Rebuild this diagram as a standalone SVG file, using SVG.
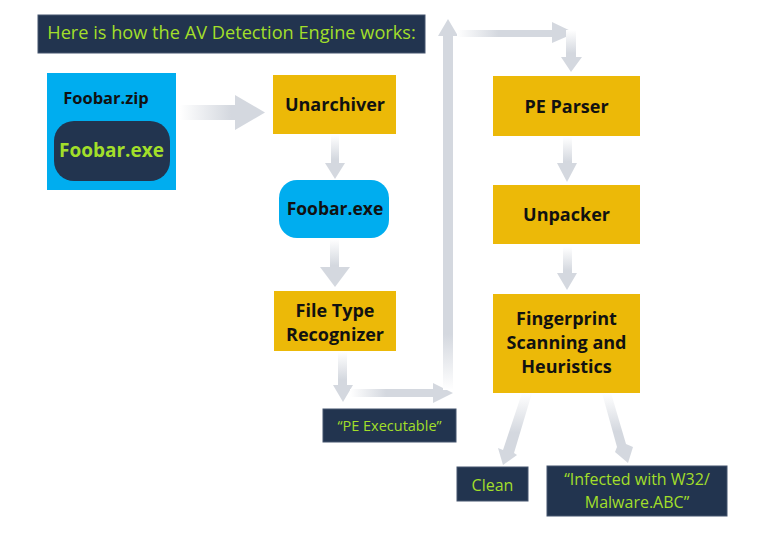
<svg xmlns="http://www.w3.org/2000/svg" width="783" height="534" viewBox="0 0 783 534">
<style>
.dark{fill:#22344f;stroke:#44546e;stroke-width:1}
.yel{fill:#ecb908}
.blue{fill:#00adef}
.lbl{font-family:"Open Sans","Noto Sans",sans-serif;font-weight:bold;fill:#111;text-anchor:middle}
.grn{font-family:"Open Sans","Noto Sans",sans-serif;fill:#a2df2a;text-anchor:middle}
</style>
<defs>
<linearGradient id="gR" x1="0" y1="0" x2="1" y2="0"><stop offset="0" stop-color="#fff"/><stop offset="0.6" stop-color="#d4d8df"/></linearGradient>
<linearGradient id="gD" x1="0" y1="0" x2="0" y2="1"><stop offset="0" stop-color="#fff"/><stop offset="0.55" stop-color="#d4d8df"/></linearGradient>
<linearGradient id="gU" x1="0" y1="1" x2="0" y2="0"><stop offset="0" stop-color="#fff"/><stop offset="0.15" stop-color="#d4d8df"/></linearGradient>
<linearGradient id="gR2" x1="0" y1="0" x2="1" y2="0"><stop offset="0" stop-color="#fff"/><stop offset="0.35" stop-color="#d4d8df"/></linearGradient>
</defs>
<rect width="783" height="534" fill="#fff"/>
<g id="title">
<rect x="38" y="15" width="387" height="38" class="dark"/>
<text x="231.5" y="39" class="grn" font-size="18.2">Here is how the AV Detection Engine works:</text>
</g>
<g id="connectors">
<polygon points="180,105 235,105 235,95 265,112.5 235,130 235,120 180,120" fill="url(#gR)"/>
<polygon points="331,135 339,135 339,163 345,163 335,179 325,163 331,163" fill="url(#gD)"/>
<polygon points="330,239 339,239 339,267 350,267 335,287 320,267 330,267" fill="url(#gD)"/>
<polygon points="338,352 347,352 347,385 353,385 343,402 333,385 338,385" fill="url(#gD)"/>
<polygon points="350,389 433,389 433,383 453,393 433,403 433,397 350,397" fill="url(#gR2)"/>
<polygon points="443,390 453,390 453,36 458,36 448,19 438,36 443,36" fill="url(#gU)"/>
<polygon points="457,30 552,30 552,22 575,33 552,43 552,37 457,37" fill="url(#gR2)"/>
<polygon points="566,30 576,30 576,57 582,57 571,72 561,57 566,57" fill="url(#gD)"/>
<polygon points="563,137 572,137 572,163 577,163 567,182 557,163 563,163" fill="url(#gD)"/>
<polygon points="563,247 572,247 572,273 577,273 567,290 557,273 563,273" fill="url(#gD)"/>
<polygon points="522,393 532,393 514,453 517,455 503,465 498,448 503,450" fill="url(#gD)"/>
<polygon points="602,393 611,393 626,444 633,447 628,463 615,452 617,447" fill="url(#gD)"/>
</g>
<g id="zip">
<rect x="47" y="73" width="129" height="117" class="blue"/>
<text x="106" y="104" class="lbl" font-size="16.5">Foobar.zip</text>
<rect x="54" y="121" width="116" height="60" rx="20" fill="#22344f"/>
<text x="111.5" y="157" class="grn" font-size="19" font-weight="bold">Foobar.exe</text>
</g>
<g id="unarchiver">
<rect x="273" y="75" width="123" height="59" class="yel"/>
<text x="335" y="111" class="lbl" font-size="18">Unarchiver</text>
</g>
<g id="foobarexe">
<rect x="279" y="180" width="110" height="58" rx="18" class="blue"/>
<text x="335" y="215" class="lbl" font-size="17.5">Foobar.exe</text>
</g>
<g id="filetype">
<rect x="274" y="291" width="122" height="60" class="yel"/>
<text x="335" y="317" class="lbl" font-size="18">File Type</text>
<text x="335" y="341" class="lbl" font-size="18">Recognizer</text>
</g>
<g id="peexec">
<rect x="323" y="409" width="133" height="33" class="dark"/>
<text x="389.5" y="431" class="grn" font-size="14.5">“PE Executable”</text>
</g>
<g id="peparser">
<rect x="493" y="76" width="147" height="60" class="yel"/>
<text x="566.5" y="113" class="lbl" font-size="18">PE Parser</text>
</g>
<g id="unpacker">
<rect x="493" y="185" width="147" height="59" class="yel"/>
<text x="566.5" y="221" class="lbl" font-size="18">Unpacker</text>
</g>
<g id="fingerprint">
<rect x="493" y="294" width="147" height="99" class="yel"/>
<text x="566.5" y="325" class="lbl" font-size="18">Fingerprint</text>
<text x="566.5" y="349" class="lbl" font-size="18">Scanning and</text>
<text x="566.5" y="373" class="lbl" font-size="18">Heuristics</text>
</g>
<g id="clean">
<rect x="457" y="467" width="71" height="34" class="dark"/>
<text x="492.5" y="491" class="grn" font-size="16">Clean</text>
</g>
<g id="infected">
<rect x="547" y="466" width="180" height="50" class="dark"/>
<text x="637" y="485" class="grn" font-size="16">“Infected with W32/</text>
<text x="637" y="508" class="grn" font-size="16">Malware.ABC”</text>
</g>
</svg>
